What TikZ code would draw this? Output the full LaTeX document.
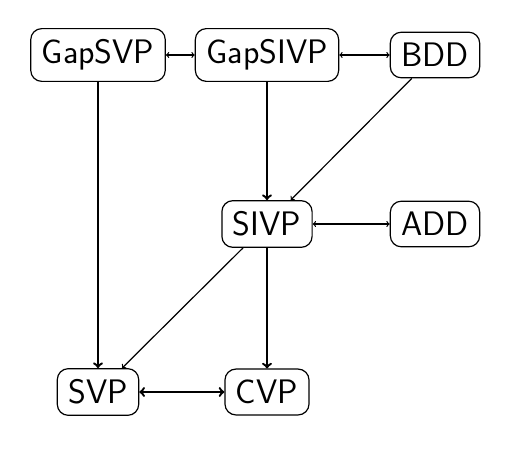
\documentclass[tikz,border=0pt]{standalone}
\usetikzlibrary{arrows}
\begin{document}
\begin{tikzpicture}[x=1pt,y=-1pt,
  prob/.style={draw,line width=1.2pt,rounded corners=11pt,inner sep=11pt,
    font=\fontsize{34}{40}\selectfont\sffamily},
  thinarr/.style={line width=1.2pt,-to},
  thinboth/.style={line width=1.2pt,to-to},
  thickarr/.style={line width=2.4pt,-to},
  thickboth/.style={line width=2.4pt,to-to}]
\useasboundingbox (0,0) rectangle (529,465);
\node[prob] (gapsvp) at (98,55) {GapSVP};
\node[prob] (gapsivp) at (267,55) {GapSIVP};
\node[prob] (bdd) at (435,55) {BDD};
\node[prob] (sivp) at (267,224) {SIVP};
\node[prob] (add) at (435,224) {ADD};
\node[prob] (svp) at (98,392) {SVP};
\node[prob] (cvp) at (267,392) {CVP};
\draw[thinboth] (gapsvp) -- (gapsivp);
\draw[thinboth] (gapsivp) -- (bdd);
\draw[thinboth] (sivp) -- (add);
\draw[thickarr] (gapsvp) -- (svp);
\draw[thickarr] (gapsivp) -- (sivp);
\draw[thickarr] (sivp) -- (cvp);
\draw[thickboth] (svp) -- (cvp);
\draw[thinarr] (bdd) -- (sivp);
\draw[thinarr] (sivp) -- (svp);
\end{tikzpicture}
\end{document}
